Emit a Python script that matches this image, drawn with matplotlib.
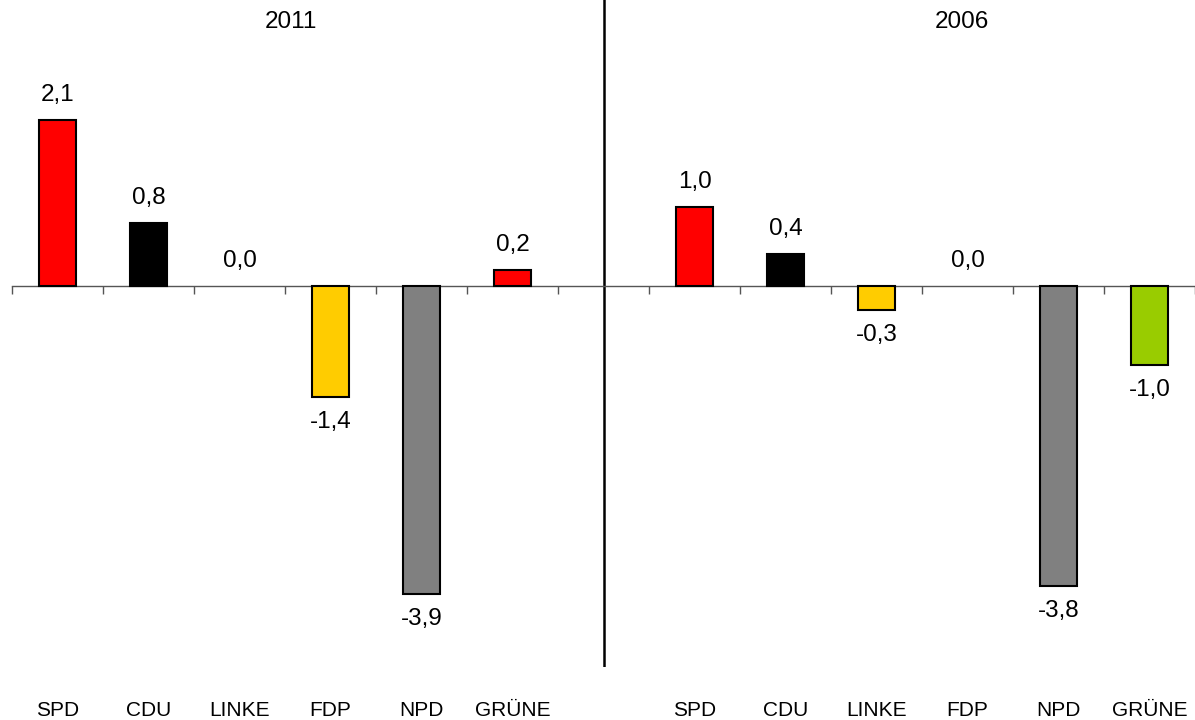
import matplotlib
matplotlib.use("Agg")
import matplotlib.pyplot as plt

plt.rcParams['font.family'] = ['Liberation Sans', 'DejaVu Sans']

parties = ["SPD", "CDU", "LINKE", "FDP", "NPD", "GRÜNE"]
years = ["2011", "2006"]
values_2011 = [2.1, 0.8, 0.0, -1.4, -3.9, 0.2]
values_2006 = [1.0, 0.4, -0.3, 0.0, -3.8, -1.0]
colors_2011 = ["#FF0000", "#000000", "#CC0000", "#FFCC00", "#808080", "#FF0000"]
colors_2006 = ["#FF0000", "#000000", "#FFCC00", "#FFCC00", "#808080", "#99CC00"]


def fmt(v):
    return f"{v:.1f}".replace(".", ",")


fig = plt.figure(figsize=(11.95, 7.2), dpi=100)
ax = fig.add_axes([12 / 1195, 53 / 720, 1 - 12 / 1195, 667 / 720])

groups = [(0, values_2011, colors_2011), (7, values_2006, colors_2006)]
for start, vals, cols in groups:
    xs = [start + i for i in range(len(vals))]
    # zero-height bars are not outlined in the original
    lws = [1.5 if v != 0 else 0 for v in vals]
    ax.bar(xs, vals, width=0.41, color=cols, edgecolor="black", linewidth=lws, zorder=3)
    for x, v in zip(xs, vals):
        off = 18 if v >= 0 else -18
        ax.annotate(fmt(v), (x, v), xytext=(0, off), textcoords="offset points",
                    ha="center", va="center", fontsize=17.5)
    for x, name in zip(xs, parties):
        ax.text(x, -43 / 667, name, transform=ax.get_xaxis_transform(),
                ha="center", va="center", fontsize=15)

# divider between the two elections
ax.axvline(6, color="black", linewidth=1.8)

ax.text(2.57, 1 - 22 / 667, years[0], transform=ax.get_xaxis_transform(),
        ha="center", va="center", fontsize=17.5)
ax.text(9.94, 1 - 22 / 667, years[1], transform=ax.get_xaxis_transform(),
        ha="center", va="center", fontsize=17.5)

ax.set_xlim(-0.5, 12.5)
ax.set_ylim(-(667 - 286) / 79, 286 / 79)

for s in ["top", "right", "left"]:
    ax.spines[s].set_visible(False)
ax.spines["bottom"].set_position(("data", 0))
ax.spines["bottom"].set_color("#555555")
ax.spines["bottom"].set_linewidth(1.0)
ax.set_xticks([i - 0.5 for i in range(14)])
ax.set_xticklabels([])
ax.tick_params(axis="x", direction="out", length=6, color="#555555", width=1.0)
ax.set_yticks([])

fig.savefig("out.png", dpi=100)
